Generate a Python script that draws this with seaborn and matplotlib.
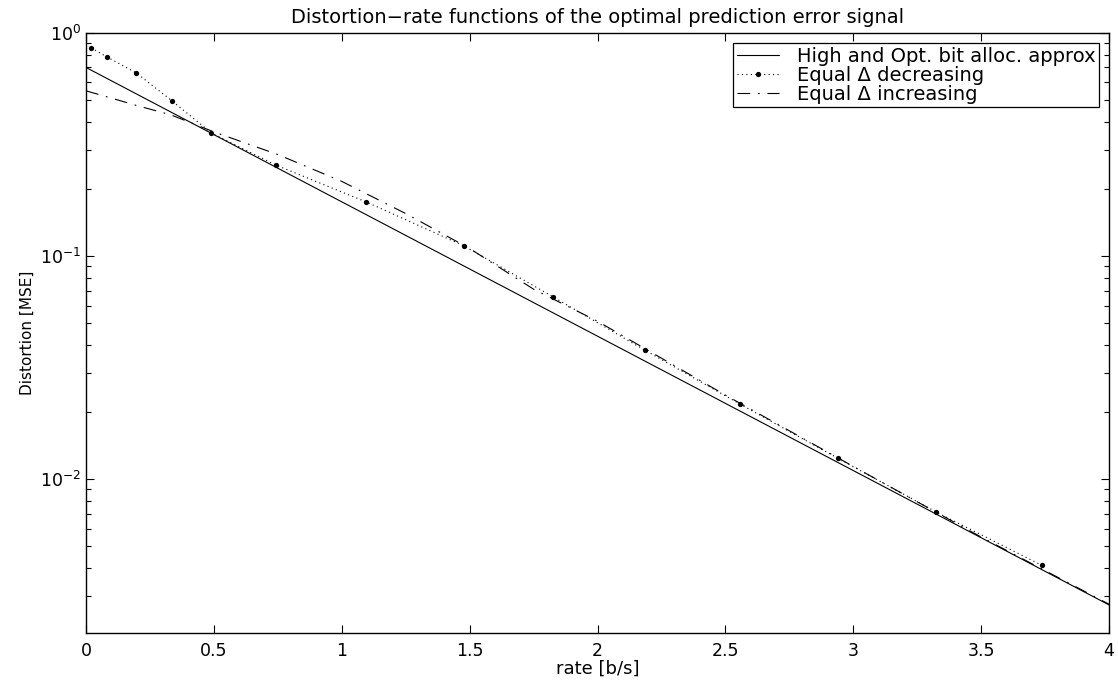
import numpy as np
import pandas as pd
import seaborn as sns
import matplotlib
matplotlib.use("Agg")
import matplotlib.pyplot as plt
from matplotlib.ticker import LogLocator, NullFormatter, FixedLocator

# values
rate_approx = [0.0, 4.0]
dist_approx = [0.70, 0.00273]

rate_dec = [0.02, 0.082, 0.196, 0.337, 0.49, 0.741, 1.094, 1.478, 1.827,
            2.184, 2.557, 2.94, 3.325, 3.737]
dist_dec = [0.857, 0.78, 0.662, 0.495, 0.356, 0.256, 0.175, 0.111, 0.0655,
            0.0379, 0.0217, 0.0124, 0.00711, 0.00411]

rate_inc = [0.0, 0.1, 0.2, 0.33, 0.5, 0.75, 1.0, 1.25, 1.5, 1.75, 2.0,
            2.5, 3.0, 3.5, 4.0]
dist_inc = [0.55, 0.51, 0.472, 0.43, 0.36, 0.285, 0.216, 0.155, 0.108,
            0.071, 0.051, 0.0238, 0.0114, 0.0055, 0.00275]

labels = ["High and Opt. bit alloc. approx",
          "Equal \u0394 decreasing",
          "Equal \u0394 increasing"]
xtick_labels = ["0", "0.5", "1", "1.5", "2", "2.5", "3", "3.5", "4"]

sns.set_style("ticks")
plt.rcParams["font.family"] = ["DejaVu Sans"]
plt.rcParams["mathtext.fontset"] = "dejavusans"
plt.rcParams["text.color"] = "black"
plt.rcParams["axes.labelcolor"] = "black"
plt.rcParams["xtick.color"] = "black"
plt.rcParams["ytick.color"] = "black"

fig = plt.figure(figsize=(11.18, 6.86), dpi=100)
ax = fig.add_axes([0.077, 0.077, 0.915, 0.875])

df_a = pd.DataFrame({"rate": rate_approx, "dist": dist_approx})
df_d = pd.DataFrame({"rate": rate_dec, "dist": dist_dec})
df_i = pd.DataFrame({"rate": rate_inc, "dist": dist_inc})

sns.lineplot(data=df_a, x="rate", y="dist", ax=ax, color="black",
             linewidth=0.8, label=labels[0])
sns.lineplot(data=df_d, x="rate", y="dist", ax=ax, color="black",
             linewidth=0.8, linestyle=(0, (1, 3)), marker="o", markersize=3.8,
             markeredgewidth=0, label=labels[1])
sns.lineplot(data=df_i, x="rate", y="dist", ax=ax, color="black",
             linewidth=0.8, dashes=False, label=labels[2])
ax.lines[2].set_dashes([11.5, 7, 1.5, 7])

ax.set_yscale("log")
ax.set_xlim(0, 4)
ax.set_ylim(2.04e-3, 1.0)
ax.set_xticks(np.arange(0, 4.01, 0.5))
ax.set_xticklabels(xtick_labels)
ax.yaxis.set_major_locator(FixedLocator([1e-2, 1e-1, 1e0]))
ax.yaxis.set_minor_locator(LogLocator(base=10, subs=np.arange(2, 10), numticks=20))
ax.yaxis.set_minor_formatter(NullFormatter())
ax.tick_params(axis="both", which="both", direction="in", top=True, right=True,
               labelsize=12.5, width=0.8, color="black", labelcolor="black")
ax.tick_params(which="major", length=6)
ax.tick_params(which="minor", length=3.5)
ax.tick_params(axis="x", pad=6)
for s in ax.spines.values():
    s.set_linewidth(1.0)
    s.set_color("black")

ax.set_xlabel("rate [b/s]", fontsize=13, labelpad=0)
ax.set_ylabel("Distortion [MSE]", fontsize=11, labelpad=4)
ax.set_title("Distortion\u2212rate functions of the optimal prediction error signal",
             fontsize=14, pad=7)

leg = ax.legend(loc="upper right", fontsize=14, frameon=True, fancybox=False,
                handlelength=2.2, borderaxespad=0.5, labelspacing=0.0,
                borderpad=0.2, handletextpad=0.9)
leg.get_frame().set_edgecolor("black")
leg.get_frame().set_linewidth(0.9)
leg.get_frame().set_alpha(1)

fig.savefig("out.png", dpi=100)
